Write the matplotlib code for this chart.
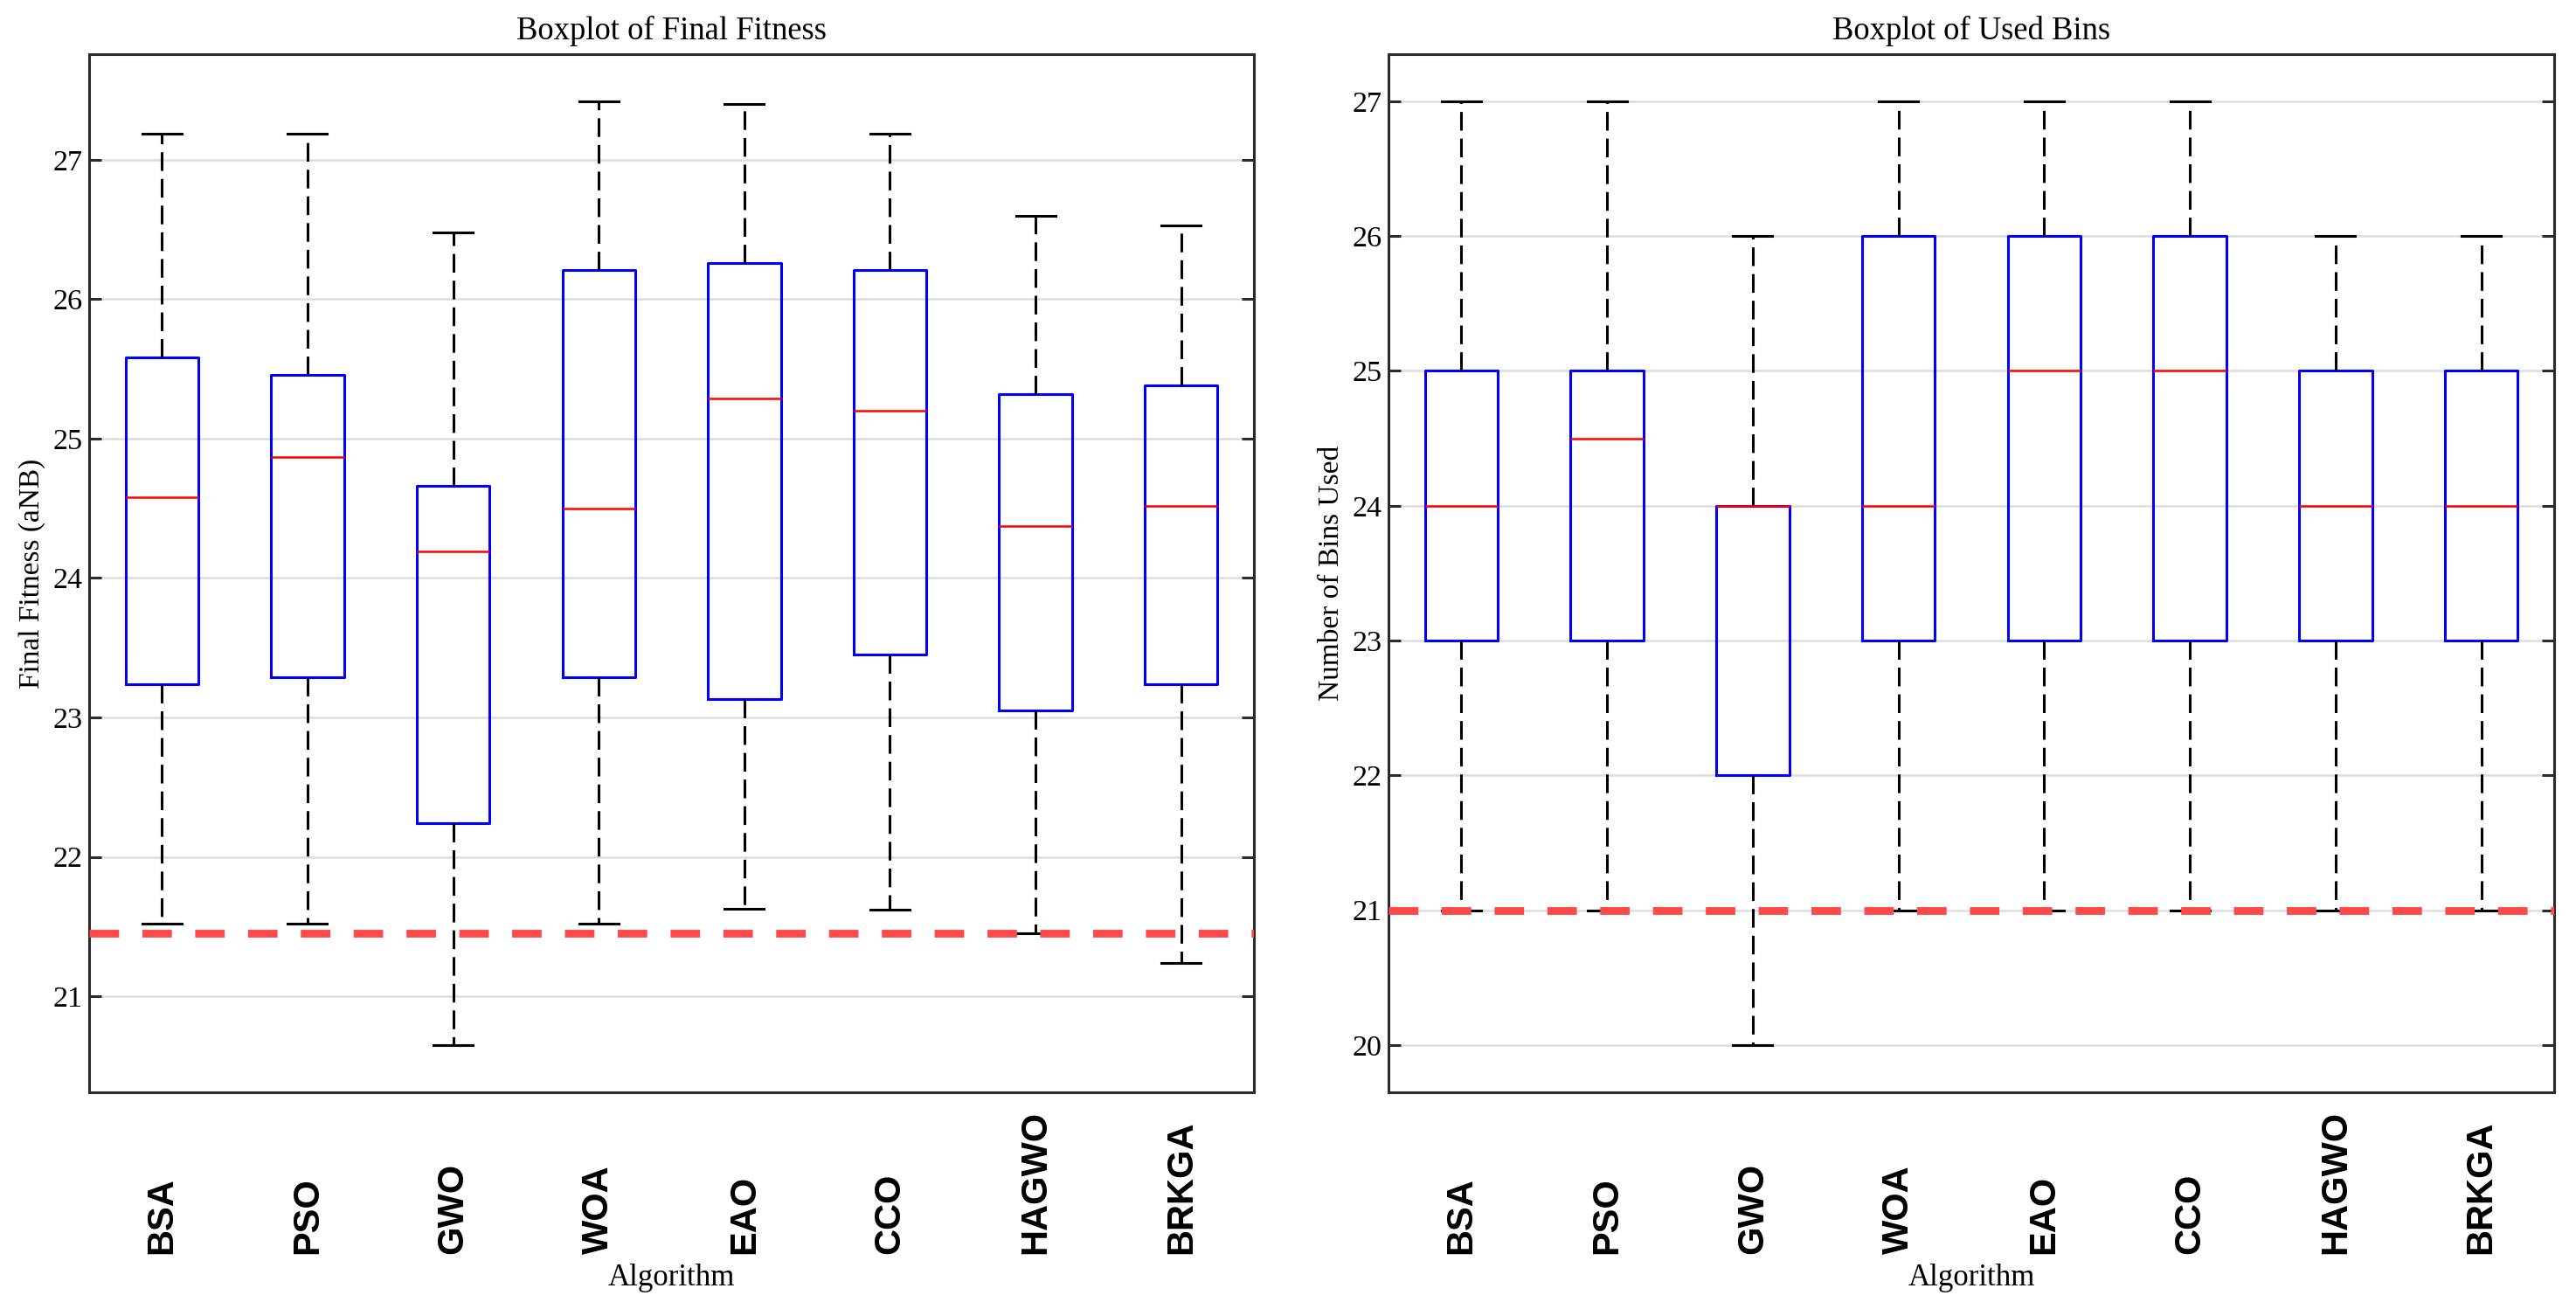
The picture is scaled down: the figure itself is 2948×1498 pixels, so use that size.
import matplotlib
matplotlib.use("Agg")
import matplotlib.pyplot as plt

plt.rcParams['font.family'] = ['Liberation Serif', 'DejaVu Serif']

algorithms = ["BSA", "PSO", "GWO", "WOA", "EAO", "CCO", "HAGWO", "BRKGA"]

# Final fitness (aNB): whisker low, Q1, median, Q3, whisker high
fit_low = [21.52, 21.52, 20.65, 21.52, 21.63, 21.62, 21.45, 21.24]
fit_q1 = [23.24, 23.29, 22.24, 23.29, 23.13, 23.45, 23.05, 23.24]
fit_med = [24.58, 24.87, 24.19, 24.50, 25.29, 25.20, 24.37, 24.52]
fit_q3 = [25.58, 25.46, 24.66, 26.21, 26.26, 26.21, 25.32, 25.38]
fit_high = [27.19, 27.19, 26.48, 27.42, 27.40, 27.19, 26.60, 26.53]
fit_ref = 21.45

# Used bins
bins_low = [21, 21, 20, 21, 21, 21, 21, 21]
bins_q1 = [23, 23, 22, 23, 23, 23, 23, 23]
bins_med = [24, 24.5, 24, 24, 25, 25, 24, 24]
bins_q3 = [25, 25, 24, 26, 26, 26, 25, 25]
bins_high = [27, 27, 26, 27, 27, 27, 26, 26]
bins_ref = 21


def make_stats(lo, q1, med, q3, hi):
    stats = []
    for i in range(len(algorithms)):
        stats.append(dict(label=algorithms[i], whislo=lo[i], q1=q1[i], med=med[i],
                          q3=q3[i], whishi=hi[i], fliers=[]))
    return stats


def draw(ax, stats, ref, title, ylabel):
    ax.bxp(stats, widths=0.5, capwidths=0.27, showfliers=False,
           boxprops=dict(color='blue', lw=1.1),
           medianprops=dict(color='red', lw=0.9),
           whiskerprops=dict(color='black', lw=1.1, linestyle=(0, (7, 3))),
           capprops=dict(color='black', lw=1.1))
    ax.axhline(ref, color='#ff4a4a', lw=3.2, linestyle=(0, (3.8, 3.0)), zorder=3)
    ax.set_xlim(0.5, 8.5)
    ax.yaxis.grid(True, color='#dddddd', lw=0.9)
    ax.set_axisbelow(True)
    for s in ax.spines.values():
        s.set_color('#2b2b2b')
        s.set_linewidth(1.1)
    ax.tick_params(axis='y', direction='in', length=5, width=1.1, pad=2.8,
                   labelsize=12.3, right=True, color='#2b2b2b')
    ax.tick_params(axis='x', length=0, pad=66.6)
    for lbl in ax.get_xticklabels():
        lbl.set_rotation(90)
        lbl.set_va('bottom')
        lbl.set_family('Liberation Sans')
        lbl.set_fontweight('bold')
        lbl.set_fontsize(15)
    ax.set_title(title, fontsize=13.2)
    ax.set_xlabel("Algorithm", fontsize=12.5, labelpad=4)
    ax.set_ylabel(ylabel, fontsize=12, labelpad=3)


fig = plt.figure(figsize=(14.74, 7.49), dpi=200)
ax1 = fig.add_axes([0.0346, 0.1656, 0.4522, 0.7931])
ax2 = fig.add_axes([0.539, 0.1656, 0.4525, 0.7931])

draw(ax1, make_stats(fit_low, fit_q1, fit_med, fit_q3, fit_high), fit_ref,
     "Boxplot of Final Fitness", "Final Fitness (aNB)")
draw(ax2, make_stats(bins_low, bins_q1, bins_med, bins_q3, bins_high), bins_ref,
     "Boxplot of Used Bins", "Number of Bins Used")

fig.savefig("out.png", dpi=200)
